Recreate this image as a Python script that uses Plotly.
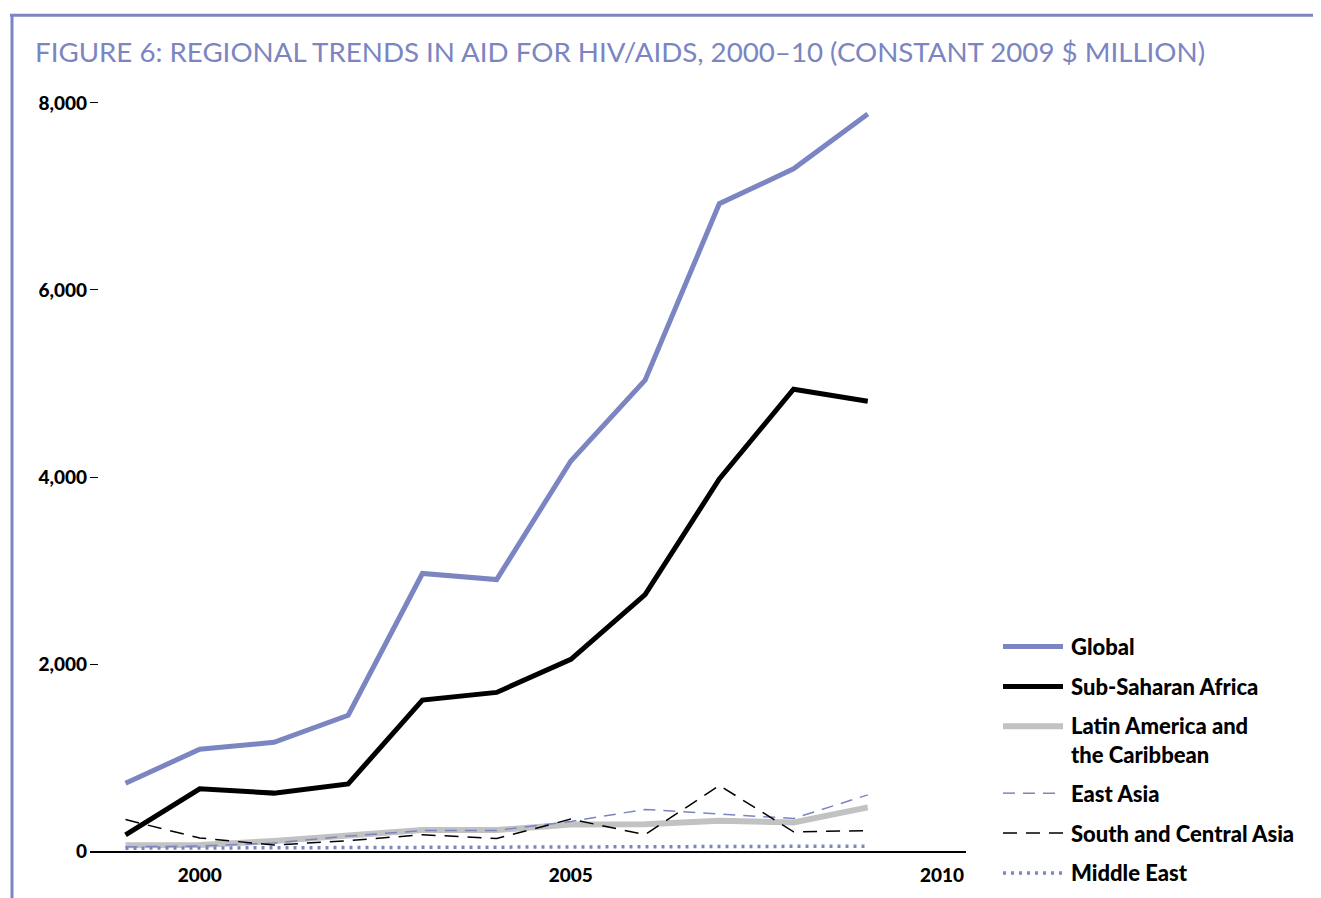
import plotly.graph_objects as go

# ---- data (constant 2009 $ million) ----
years = [1999, 2000, 2001, 2002, 2003, 2004, 2005, 2006, 2007, 2008, 2009]
global_aid = [725, 1088, 1163, 1452, 2968, 2903, 4171, 5035, 6923, 7296, 7883]
ssa = [172, 665, 619, 718, 1614, 1696, 2050, 2741, 3979, 4939, 4811]
latam = [61, 64, 107, 160, 224, 224, 284, 286, 323, 306, 466]
east_asia = [45, 53, 85, 160, 218, 220, 316, 445, 395, 348, 600]
south_central = [336, 139, 64, 110, 174, 133, 341, 174, 702, 205, 218]
middle_east = [30, 32, 33, 35, 37, 38, 42, 44, 46, 48, 52]

x_ticks = [2000, 2005, 2010]
x_tick_text = ["2000", "2005", "2010"]
y_ticks = [0, 2000, 4000, 6000, 8000]
y_tick_text = ["0", "2,000", "4,000", "6,000", "8,000"]

title_text = "FIGURE 6: REGIONAL TRENDS IN AID FOR HIV/AIDS, 2000\u201310 (CONSTANT 2009 $ MILLION)"

PURPLE = "#7a85c2"
GREY = "#c2c2c2"
BLACK = "#000000"
FONT = "Lato"

OFF = 8  # page body margin
W, H = 1321 - OFF, 898 - OFF
# plot area in page (screen) coordinates
P_L, P_R, P_T, P_B = 90, 966, 100, 853
ML, MR, MT, MB = P_L - OFF, (W + OFF) - P_R, P_T - OFF, (H + OFF) - P_B
PW, PH = P_R - P_L, P_B - P_T


def px(x):
    return (x - P_L) / PW


def py(y):
    return (P_B - y) / PH


series = [
    ("Latin America and the Caribbean", latam, dict(color=GREY, width=6)),
    ("East Asia", east_asia, dict(color=PURPLE, width=1.5, dash="12px,8px")),
    ("South and Central Asia", south_central, dict(color=BLACK, width=1.5, dash="14px,9px")),
    ("Middle East", middle_east, dict(color=PURPLE, width=3.5, dash="3px,5px")),
    ("Sub-Saharan Africa", ssa, dict(color=BLACK, width=5)),
    ("Global", global_aid, dict(color=PURPLE, width=5)),
]

fig = go.Figure()
for name, vals, line in series:
    fig.add_trace(go.Scatter(x=years, y=vals, mode="lines", name=name,
                             line=line, showlegend=False))

LEG_FONT = dict(family=FONT, size=22, color=BLACK, weight=900)

# ---- custom legend ----
legend_rows = [
    ("Global", 648, dict(color=PURPLE, width=5), 1),
    ("Sub-Saharan Africa", 688, dict(color=BLACK, width=5), 1),
    ("Latin America and<br>the Caribbean", 728, dict(color=GREY, width=6), 2),
    ("East Asia", 795, dict(color=PURPLE, width=1.5, dash="12px,8px"), 1),
    ("South and Central Asia", 835, dict(color=BLACK, width=1.5, dash="14px,9px"), 1),
    ("Middle East", 875, dict(color=PURPLE, width=3.5, dash="3px,5px"), 1),
]
shapes = []
annotations = []
for label, yy, line, nlines in legend_rows:
    shapes.append(dict(type="line", xref="paper", yref="paper",
                       x0=px(1003), x1=px(1063), y0=py(yy), y1=py(yy), line=line))
    if nlines == 1:
        annotations.append(dict(text=label, xref="paper", yref="paper",
                                x=px(1069), y=py(yy), xanchor="left", yanchor="middle",
                                showarrow=False, align="left", font=LEG_FONT))
    else:
        annotations.append(dict(text=label, xref="paper", yref="paper",
                                x=px(1069), y=py(yy - 16), xanchor="left", yanchor="top",
                                showarrow=False, align="left", font=LEG_FONT))

# ---- frame ----
shapes.append(dict(type="line", xref="paper", yref="paper", x0=px(10), x1=px(1330), y0=py(15), y1=py(15),
                   line=dict(color=PURPLE, width=3)))
shapes.append(dict(type="line", xref="paper", yref="paper", x0=px(12), x1=px(12), y0=py(15), y1=py(910),
                   line=dict(color=PURPLE, width=3)))

annotations.append(dict(text=title_text, xref="paper", yref="paper", x=px(33), y=py(51),
                        xanchor="left", yanchor="middle", showarrow=False,
                        font=dict(family=FONT, size=27.7, color=PURPLE)))

x_per_year = 74.2
x0 = 1999 - (125.5 - P_L) / x_per_year
x1 = 2010 + (P_R - 942) / x_per_year
y_top = 8000 + (103 - P_T) / 0.09375

TICK_FONT = dict(family=FONT, size=19, color=BLACK, weight=900)

fig.update_layout(
    width=W, height=H,
    margin=dict(l=ML, r=MR, t=MT, b=MB, pad=0),
    paper_bgcolor="white", plot_bgcolor="white",
    showlegend=False,
    shapes=shapes, annotations=annotations,
    xaxis=dict(range=[x0, x1], tickvals=x_ticks, ticktext=x_tick_text, showgrid=False,
               zeroline=False, showline=True, linecolor=BLACK, linewidth=2, ticks="",
               ticklabelstandoff=6, tickfont=TICK_FONT),
    yaxis=dict(range=[0, y_top], tickvals=y_ticks, ticktext=y_tick_text, showgrid=False,
               zeroline=False, showline=False, ticks="inside", ticklen=8, tickwidth=1.2,
               tickcolor=BLACK, ticklabelstandoff=2, tickfont=TICK_FONT),
)

fig.write_html("out.html")
